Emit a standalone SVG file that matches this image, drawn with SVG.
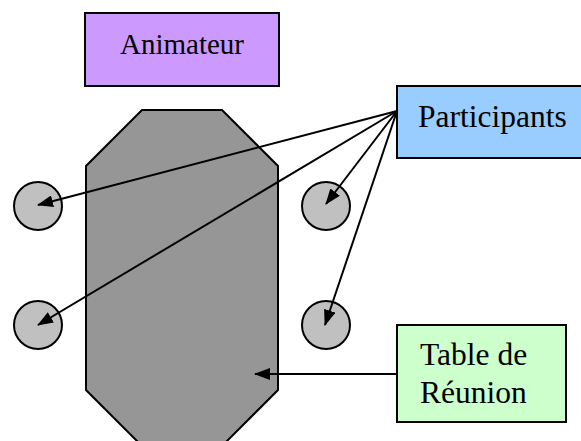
<svg xmlns="http://www.w3.org/2000/svg" width="581" height="441" viewBox="0 0 581 441">
  <style>
    .box { stroke: #000; stroke-width: 2; }
    .seat { fill: #C0C0C0; stroke: #000; stroke-width: 2; }
    .label { font-family: "Liberation Serif", "Times New Roman", serif; fill: #000; }
    .conn { stroke: #000; stroke-width: 2; fill: none; marker-end: url(#arrow); }
  </style>
  <defs>
    <marker id="arrow" markerWidth="16" markerHeight="12" refX="15" refY="6" orient="auto" markerUnits="userSpaceOnUse">
      <path d="M0,0 L16,6 L0,12 Z" fill="#000"/>
    </marker>
  </defs>
  <rect width="581" height="441" fill="#fff"/>

  <!-- meeting table -->
  <g id="table">
    <polygon points="142,110 222,110 278,166 278,390 222,446 142,446 86,390 86,166" fill="#969696" stroke="#000" stroke-width="2"/>
  </g>

  <!-- seats -->
  <g id="seat-left-top"><circle class="seat" cx="38" cy="206" r="24"/></g>
  <g id="seat-left-bottom"><circle class="seat" cx="38" cy="325" r="24"/></g>
  <g id="seat-right-top"><circle class="seat" cx="326" cy="206" r="24"/></g>
  <g id="seat-right-bottom"><circle class="seat" cx="326" cy="325" r="24"/></g>

  <!-- labels -->
  <g id="animateur">
    <rect class="box" x="85" y="13" width="194" height="73" fill="#CC99FF"/>
    <text class="label" x="182" y="54" font-size="29" text-anchor="middle">Animateur</text>
  </g>
  <g id="participants">
    <rect class="box" x="397" y="86" width="190" height="72" fill="#99CCFF"/>
    <text class="label" x="418" y="127" font-size="31.5">Participants</text>
  </g>
  <g id="table-label">
    <rect class="box" x="397" y="325" width="169" height="97" fill="#CCFFCC"/>
    <text class="label" x="420" y="365" font-size="31.5">Table de</text>
    <text class="label" x="420" y="403" font-size="31.5">Réunion</text>
  </g>

  <!-- connectors -->
  <g id="connectors">
    <line class="conn" x1="397" y1="111" x2="38" y2="205"/>
    <line class="conn" x1="397" y1="111" x2="38" y2="325"/>
    <line class="conn" x1="397" y1="111" x2="326" y2="204"/>
    <line class="conn" x1="397" y1="111" x2="325" y2="325"/>
    <line class="conn" x1="397" y1="374" x2="255" y2="374"/>
  </g>
</svg>
